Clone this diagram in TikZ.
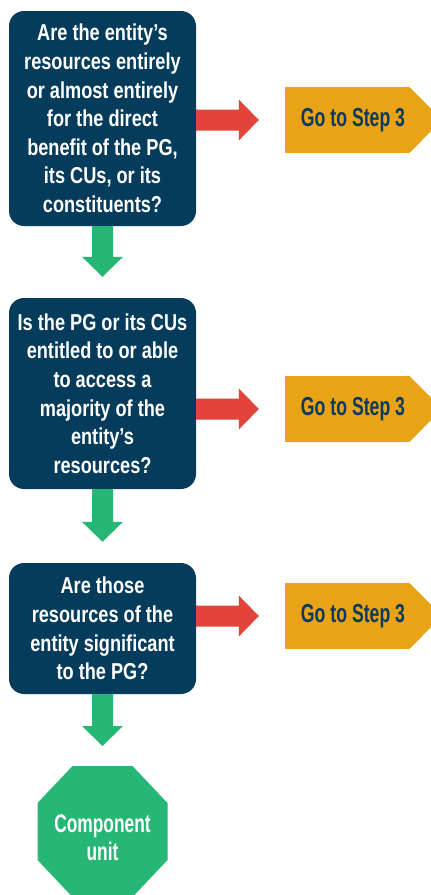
\documentclass[tikz,border=0pt]{standalone}
\usepackage{fontspec}
\usetikzlibrary{calc}
\newfontfamily\boxfont{Liberation Sans}[FakeStretch=0.79]
\newfontfamily\gofont{Liberation Sans}[FakeStretch=0.68]
\definecolor{navyc}{HTML}{063C5B}
\definecolor{redc}{HTML}{E2433A}
\definecolor{greenc}{HTML}{26B675}
\definecolor{goldc}{HTML}{E8A416}
\definecolor{gotextc}{HTML}{0D3A5C}
\tikzset{
  qbox/.style={fill=navyc, rounded corners=15pt, minimum width=187pt, inner sep=0pt,
    text=white, align=center, font=\boxfont\bfseries\fontsize{23pt}{28.6pt}\selectfont},
  gorect/.style={fill=goldc, minimum width=124pt, minimum height=66pt, inner sep=0pt},
  gotext/.style={text=gotextc, inner sep=0pt, font=\gofont\bfseries\fontsize{26pt}{30pt}\selectfont},
  cutext/.style={text=white, inner sep=0pt, align=center, font=\gofont\bfseries\fontsize{25.5pt}{28pt}\selectfont},
  redarrow/.style={fill=redc},
  greenarrow/.style={fill=greenc},
}
\begin{document}
\begin{tikzpicture}[x=1pt,y=-1pt]
\useasboundingbox (0,0) rectangle (431,895);
\fill[white] (0,0) rectangle (431,895);
\clip (0,0) rectangle (431,895);

% question boxes
\node[qbox, minimum height=215pt] (b1) at (102.5,118.5) {Are the entity’s\\resources entirely\\or almost entirely\\for the direct\\benefit of the PG,\\its CUs, or its\\constituents?};
\node[qbox, minimum height=191pt] (b2) at (102.5,393.5) {Is the PG or its CUs\\entitled to or able\\to access a\\majority of the\\entity’s\\resources?};
\node[qbox, minimum height=131pt] (b3) at (102.5,628.5) {Are those\\resources of the\\entity significant\\to the PG?};

% go boxes
\foreach \i/\y in {1/120,2/409,3/616}{
  \node[gorect] (g\i) at (347,\y) {};
  \fill[goldc] (g\i.north east) -- ++(33,33) -- (g\i.south east) -- cycle;
  \node[gotext] (g\i t) at ($(g\i.center)+(6,0)$) {Go to Step 3};
}

% red arrows
\foreach \i in {1,2,3}{
  \coordinate (rs\i) at (b\i.east |- g\i.west);
  \coordinate (re\i) at ($(g\i.west)+(-26,0)$);
  \fill[redarrow] ($(rs\i)+(0,-10.5)$) -- ($(re\i)+(-20,-10.5)$) -- ($(re\i)+(-20,-20.5)$)
    -- (re\i) -- ($(re\i)+(-20,20.5)$) -- ($(re\i)+(-20,10.5)$) -- ($(rs\i)+(0,10.5)$) -- cycle;
}

% component unit octagon
\coordinate (cuc) at (102.5,831.5);
\fill[greenc] ($(cuc)+(-30,-65.5)$) -- ($(cuc)+(30,-65.5)$) -- ($(cuc)+(65,-28.5)$)
  -- ($(cuc)+(65,28.5)$) -- ($(cuc)+(30,65.5)$) -- ($(cuc)+(-30,65.5)$)
  -- ($(cuc)+(-65,28.5)$) -- ($(cuc)+(-65,-28.5)$) -- cycle;
\node[cutext] (cu) at ($(cuc)+(0,6)$) {Component\\unit};

% green arrows
\coordinate (t1) at ($(b2.north)+(0,-21)$);
\coordinate (t2) at ($(b3.north)+(0,-21)$);
\coordinate (t3) at ($(cuc)+(0,-85.5)$);
\foreach \a/\t in {b1/t1,b2/t2,b3/t3}{
  \fill[greenarrow] ($(\a.south)+(-10.5,0)$) -- ($(\t)+(-10.5,-20)$) -- ($(\t)+(-20.5,-20)$)
    -- (\t) -- ($(\t)+(20.5,-20)$) -- ($(\t)+(10.5,-20)$) -- ($(\a.south)+(10.5,0)$) -- cycle;
}
\end{tikzpicture}
\end{document}
